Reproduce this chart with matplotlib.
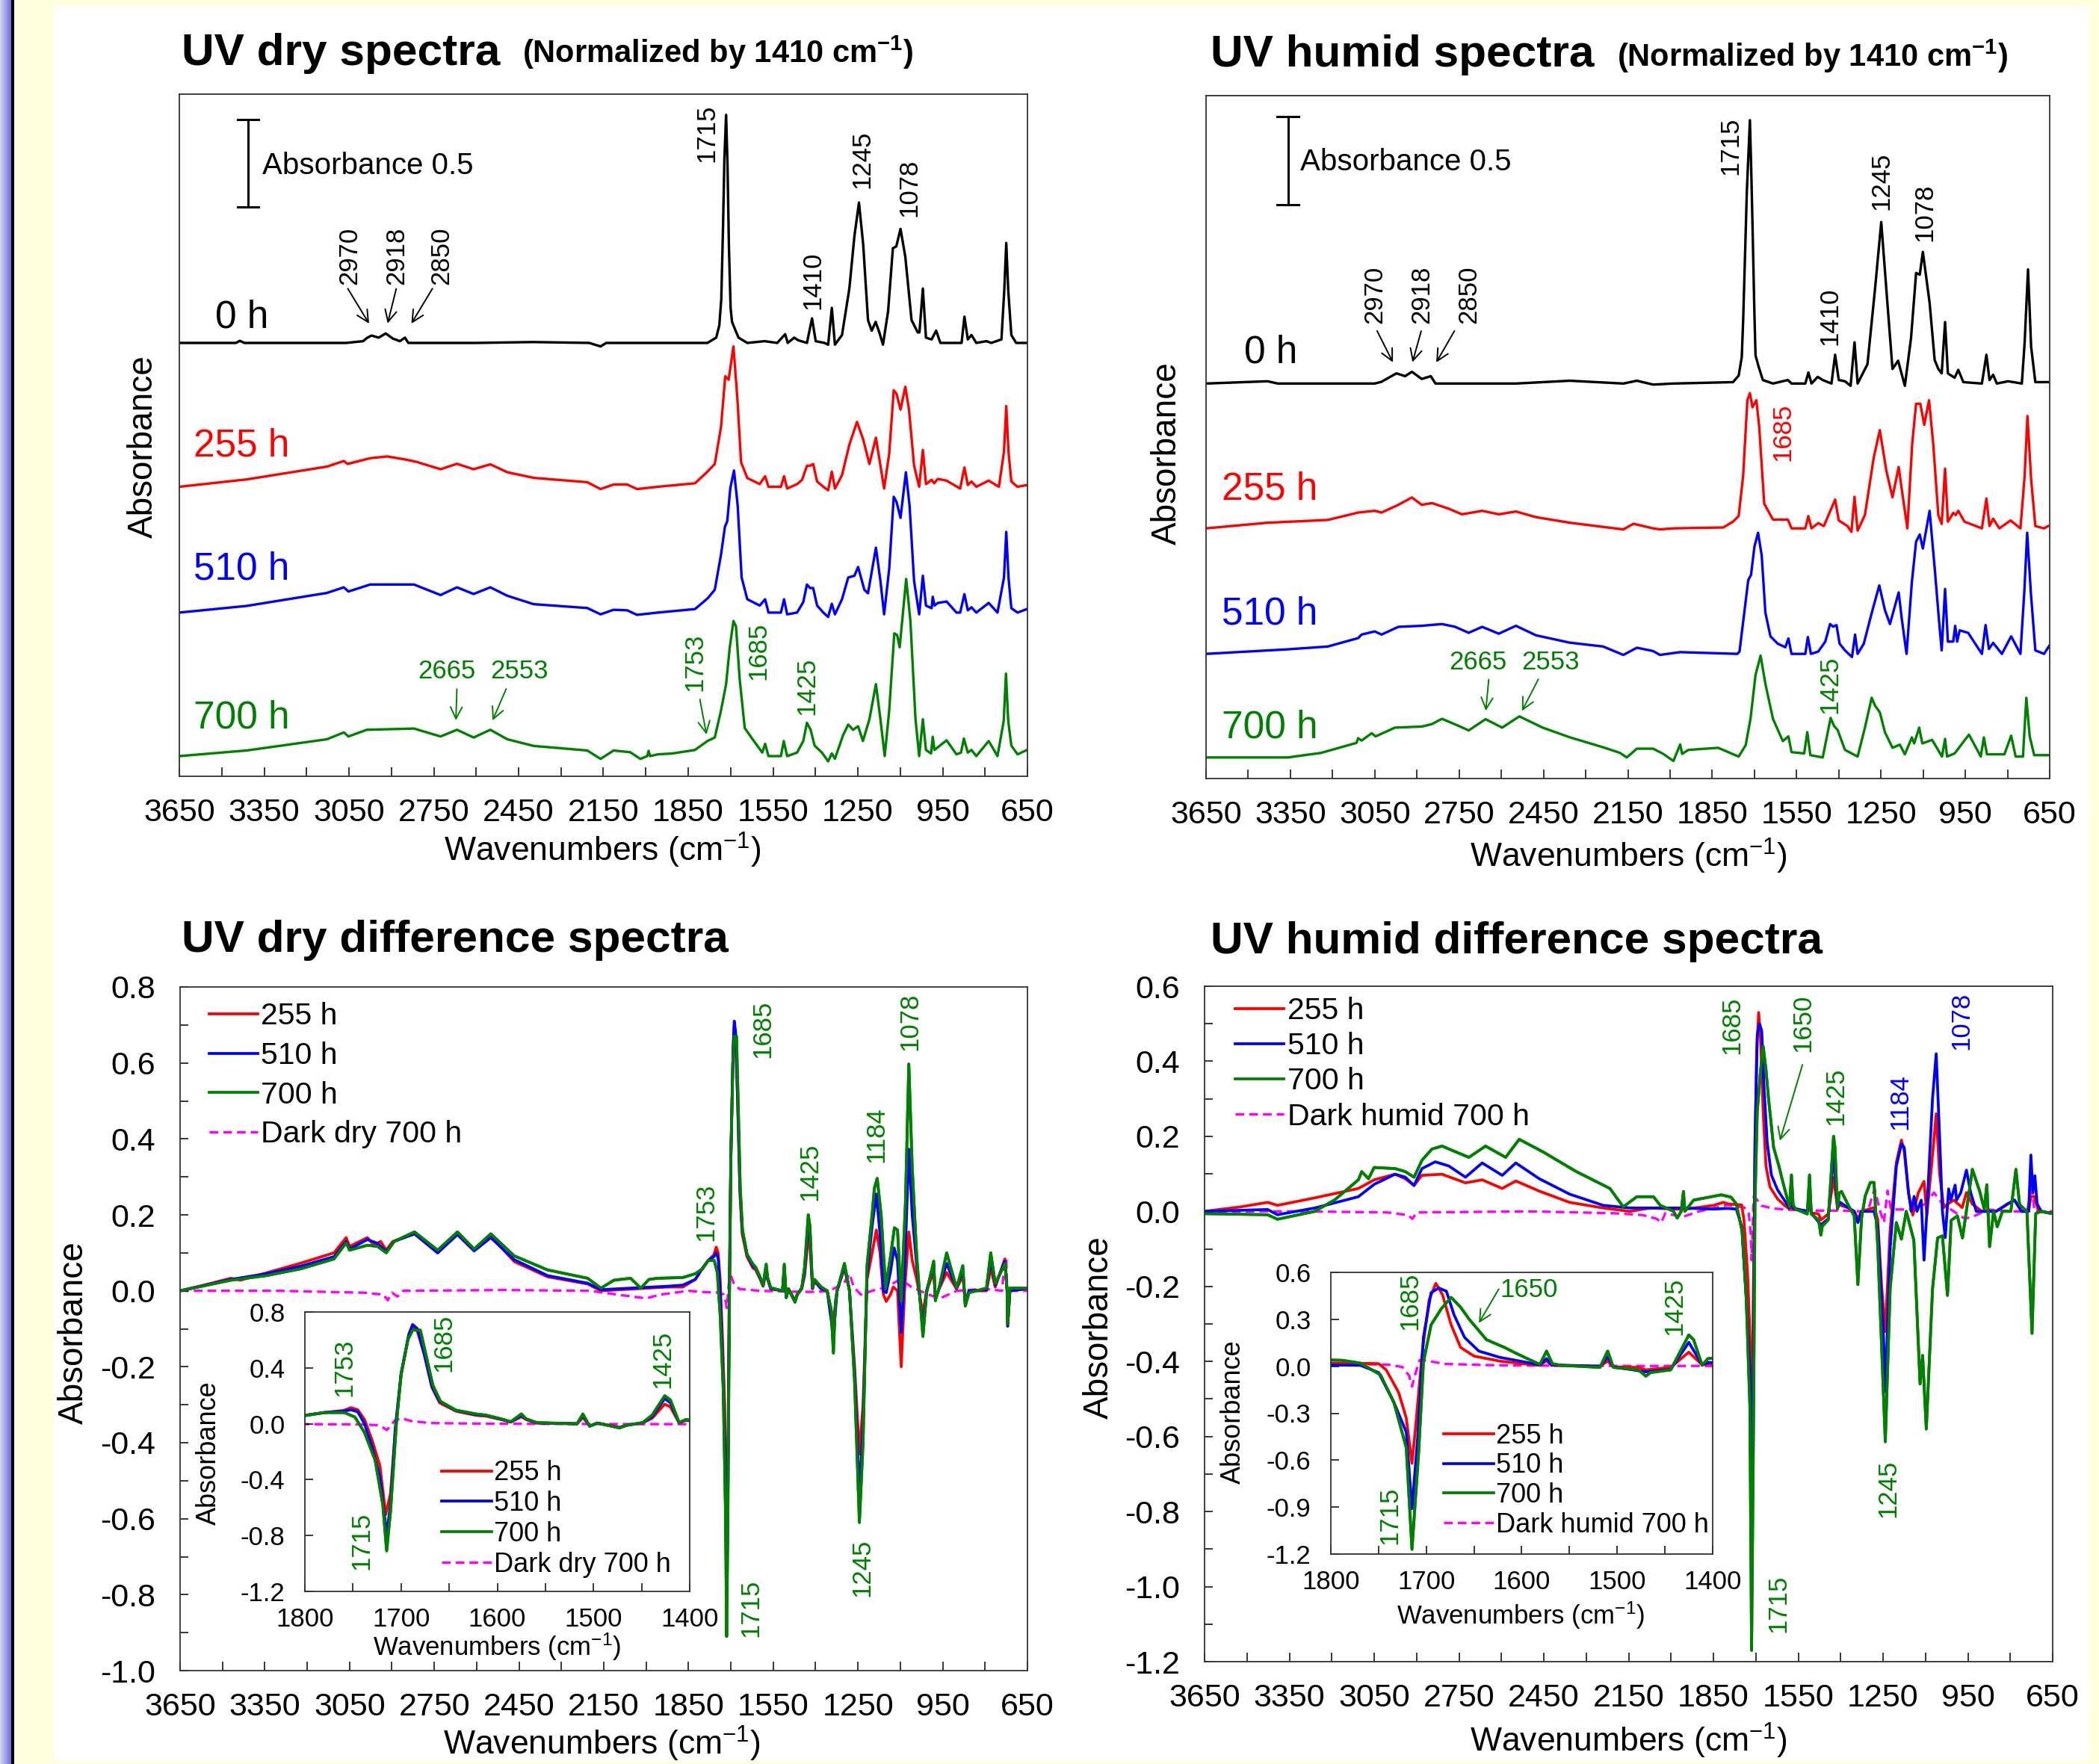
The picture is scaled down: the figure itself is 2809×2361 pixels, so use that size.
import numpy as np
import matplotlib
matplotlib.use("Agg")
import matplotlib.pyplot as plt
from matplotlib.patches import Rectangle
from matplotlib.colors import LinearSegmentedColormap
from matplotlib.ticker import FixedLocator, NullFormatter

plt.rcParams['font.family'] = ['Liberation Sans', 'DejaVu Sans']
plt.rcParams['mathtext.fontset'] = 'custom'
plt.rcParams['mathtext.rm'] = 'Liberation Sans'
plt.rcParams['mathtext.bf'] = 'Liberation Sans:bold'
plt.rcParams['mathtext.default'] = 'regular'
plt.rcParams['axes.unicode_minus'] = False

W, H = 2809, 2361

# ---------------- data: stacked spectra (wavenumber, absorbance above own baseline) ----------------
dry_0h = [(3650,0),(3450,0),(3436,0.012),(3420,0),(3060,0),(3000,0.01),(2985,0.03),(2970,0.042),(2945,0.03),
          (2920,0.054),(2895,0.025),(2870,0.01),(2852,0.03),(2840,0),(2600,0),(2400,0.005),(2200,0),(2160,-0.02),
          (2140,0),(1958,0),(1782,0),(1751,0.03),(1740,0.1),(1733,0.25),(1727,0.65),(1722,1.05),(1716,1.30),
          (1711,1.02),(1706,0.55),(1700,0.2),(1695,0.12),(1685,0.08),(1672,0.03),(1641,0),(1580,0.01),(1535,0),
          (1507,0.05),(1498,0),(1475,0.03),(1461,0.015),(1430,0),(1412,0.14),(1399,0.01),(1368,0),(1355,-0.01),
          (1342,0.2),(1331,-0.01),(1306,0.045),(1280,0.31),(1262,0.61),(1246,0.80),(1231,0.56),(1214,0.13),
          (1201,0.07),(1187,0.12),(1174,0.06),(1161,-0.01),(1143,0.18),(1126,0.54),(1114,0.55),(1099,0.65),
          (1082,0.49),(1060,0.13),(1038,0.06),(1032,0.06),(1020,0.31),(1009,0.03),(989,0.02),(973,0.07),(958,0),
          (883,0),(873,0.15),(861,0.02),(848,0.045),(831,0),(795,0.01),(778,0),(742,0.02),(732,0.3),(725,0.57),
          (718,0.3),(707,0.045),(690,0),(650,0)]
dry_255h = [(3650,0),(3412,0.042),(3128,0.115),(3068,0.147),(3055,0.13),(2975,0.163),(2915,0.173),(2845,0.154),
            (2809,0.141),(2726,0.10),(2668,0.131),(2609,0.10),(2550,0.128),(2490,0.083),(2397,0.051),(2207,0.026),
            (2160,-0.013),(2114,0.013),(2066,0.013),(2031,-0.013),(1958,0),(1826,0.02),(1782,0.086),(1756,0.13),
            (1734,0.34),(1719,0.63),(1707,0.61),(1690,0.80),(1676,0.50),(1663,0.14),(1641,0.05),(1597,0.015),
            (1578,0.06),(1566,0),(1522,0),(1511,0.06),(1500,-0.01),(1465,0.015),(1447,0.04),(1430,0.12),(1419,0.12),
            (1408,0.13),(1394,0.03),(1372,0),(1355,-0.02),(1342,0.086),(1331,-0.01),(1306,0.066),(1280,0.24),
            (1253,0.37),(1231,0.27),(1209,0.13),(1186,0.28),(1170,0.12),(1157,-0.01),(1139,0.19),(1123,0.55),
            (1113,0.53),(1099,0.44),(1082,0.57),(1069,0.44),(1051,0.12),(1033,0),(1020,0.21),(1009,0.015),(989,0.04),
            (980,0.02),(967,0.045),(936,0.035),(888,-0.01),(873,0.11),(861,0.01),(848,0.03),(831,0),(787,0.035),
            (751,0),(733,0.2),(725,0.46),(717,0.2),(707,0.03),(685,0),(652,0.01)]
dry_510h = [(3650,0),(3412,0.038),(3128,0.112),(3068,0.144),(3052,0.12),(2975,0.16),(2903,0.16),(2820,0.16),
            (2726,0.10),(2668,0.144),(2609,0.106),(2550,0.144),(2490,0.096),(2397,0.048),(2207,0.026),(2160,-0.01),
            (2114,0.016),(2066,0.013),(2031,-0.013),(1958,0),(1826,0.02),(1782,0.08),(1756,0.13),(1734,0.33),
            (1720,0.49),(1712,0.52),(1701,0.71),(1688,0.81),(1675,0.61),(1661,0.2),(1641,0.076),(1597,0.04),
            (1578,0.076),(1566,0),(1522,0),(1511,0.076),(1500,-0.01),(1465,0),(1443,0.06),(1430,0.16),(1419,0.14),
            (1408,0.14),(1394,0.04),(1372,0),(1355,-0.025),(1342,0.05),(1331,-0.01),(1306,0.076),(1284,0.2),
            (1262,0.21),(1249,0.26),(1227,0.13),(1214,0.11),(1186,0.37),(1170,0.18),(1157,-0.01),(1139,0.25),
            (1123,0.66),(1113,0.63),(1099,0.54),(1080,0.80),(1067,0.61),(1051,0.18),(1033,-0.01),(1020,0.21),
            (1009,0.04),(989,0.025),(985,0.09),(979,0.04),(967,0.055),(936,0.063),(901,0),(888,0),(873,0.105),
            (861,0.013),(848,0.03),(831,0),(787,0.055),(756,0),(733,0.2),(725,0.46),(717,0.2),(707,0.025),(685,0),
            (652,0.02)]
dry_700h = [(3650,0),(3412,0.032),(3128,0.096),(3068,0.135),(3052,0.112),(2987,0.15),(2820,0.157),(2726,0.112),
            (2668,0.15),(2609,0.106),(2550,0.15),(2490,0.096),(2397,0.058),(2207,0.032),(2160,-0.016),(2114,0.032),
            (2055,0.022),(2019,-0.016),(1995,0.0),(1990,0.03),(1985,0.0),(1958,0.01),(1906,0.015),(1826,0.035),
            (1782,0.086),(1756,0.106),(1734,0.26),(1716,0.41),(1703,0.62),(1690,0.77),(1681,0.74),(1668,0.44),
            (1650,0.16),(1624,0.1),(1588,0.02),(1578,0.07),(1566,0),(1522,0),(1512,0.086),(1500,0),(1465,0.02),
            (1443,0.086),(1430,0.19),(1417,0.15),(1403,0.06),(1377,0.02),(1355,-0.03),(1342,0.015),(1331,-0.015),
            (1302,0.12),(1284,0.18),(1267,0.15),(1249,0.17),(1232,0.086),(1209,0.21),(1186,0.41),(1170,0.21),
            (1155,0),(1139,0.26),(1121,0.70),(1111,0.69),(1102,0.62),(1079,1.01),(1064,0.77),(1046,0.21),(1033,0),
            (1020,0.21),(1009,0.035),(991,0.015),(985,0.11),(979,0.035),(936,0.09),(901,0.01),(885,0.02),(875,0.1),
            (861,0.02),(848,0.035),(831,0),(787,0.086),(756,0),(734,0.2),(726,0.47),(718,0.2),(707,0.06),(685,0.01),
            (652,0.035)]
dry_offsets = [2.47, 1.65, 0.933, 0.115]

hum_0h = [(3650,0),(3431,0.013),(3395,0),(3050,0),(3026,0.01),(2973,0.058),(2942,0.042),(2918,0.067),(2883,0.026),
          (2851,0.042),(2834,0),(2548,0),(2357,0.016),(2166,0),(2118,0.016),(2060,-0.006),(1988,0),(1776,0.008),
          (1756,0.045),(1745,0.15),(1740,0.36),(1733,0.75),(1727,1.09),(1716,1.50),(1711,1.2),(1707,0.92),
          (1700,0.4),(1696,0.16),(1685,0.096),(1670,0.02),(1634,0),(1581,0.02),(1568,0),(1519,0),(1508,0.063),
          (1497,0),(1475,0.038),(1457,0.02),(1426,0),(1413,0.164),(1400,0.02),(1378,0.013),(1358,-0.013),
          (1344,0.235),(1333,0),(1298,0.11),(1271,0.54),(1249,0.92),(1231,0.54),(1209,0.083),(1189,0.13),
          (1165,-0.013),(1143,0.26),(1125,0.63),(1112,0.62),(1101,0.75),(1077,0.46),(1059,0.134),(1046,0.083),
          (1034,0.058),(1022,0.35),(1012,0.058),(988,0.033),(975,0.078),(957,0.008),(891,0),(875,0.164),
          (864,0.02),(851,0.05),(838,0),(798,0.013),(749,0),(739,0.235),(727,0.65),(716,0.21),(701,0.008),
          (656,0.008)]
hum_255h = [(3650,0),(3431,0.032),(3217,0.048),(3109,0.09),(3050,0.10),(3026,0.09),(2966,0.134),(2918,0.176),
            (2883,0.134),(2847,0.144),(2787,0.112),(2740,0.08),(2668,0.10),(2609,0.08),(2548,0.096),(2477,0.064),
            (2357,0.032),(2166,-0.006),(2130,0.026),(2060,0),(2036,-0.006),(1988,0),(1811,0.005),(1776,0.038),
            (1756,0.07),(1740,0.30),(1725,0.73),(1716,0.77),(1707,0.69),(1693,0.73),(1683,0.58),(1665,0.14),
            (1634,0.05),(1581,0.05),(1568,0),(1519,0),(1508,0.07),(1497,0),(1473,0.03),(1453,0.013),(1431,0.096),
            (1413,0.164),(1400,0.045),(1369,0.013),(1355,-0.02),(1344,0.18),(1333,-0.013),(1307,0.076),(1276,0.40),
            (1254,0.56),(1231,0.33),(1209,0.177),(1187,0.35),(1174,0.2),(1156,0),(1139,0.48),(1125,0.71),
            (1110,0.71),(1096,0.59),(1079,0.73),(1064,0.48),(1046,0.076),(1034,0.025),(1022,0.34),(1012,0.038),
            (993,0.088),(984,0.076),(975,0.1),(953,0.038),(891,0),(875,0.17),(864,0.013),(851,0.055),(829,0),
            (789,0.045),(754,0),(739,0.30),(729,0.64),(716,0.28),(701,0.013),(670,0),(656,0.013)]
hum_510h = [(3650,0),(3359,0.026),(3217,0.042),(3109,0.09),(3097,0.11),(3050,0.128),(3026,0.11),(2966,0.154),
            (2883,0.16),(2811,0.17),(2764,0.154),(2716,0.12),(2668,0.154),(2609,0.115),(2548,0.16),(2477,0.106),
            (2357,0.064),(2238,0.042),(2166,-0.006),(2118,0.035),(2060,0.016),(2036,-0.006),(1964,0.01),(1761,0),
            (1753,0.013),(1736,0.235),(1722,0.42),(1712,0.45),(1700,0.61),(1687,0.69),(1674,0.56),(1661,0.235),
            (1643,0.10),(1617,0.058),(1590,0.038),(1579,0.088),(1568,0),(1519,0),(1510,0.096),(1499,0),(1473,0.013),
            (1448,0.07),(1431,0.17),(1420,0.155),(1408,0.164),(1397,0.058),(1378,0.02),(1353,-0.018),(1342,0.11),
            (1333,0),(1311,0.058),(1285,0.22),(1256,0.39),(1236,0.25),(1218,0.17),(1187,0.35),(1176,0.2),(1159,0),
            (1140,0.41),(1125,0.64),(1112,0.68),(1101,0.60),(1077,0.815),(1059,0.49),(1043,0.18),(1034,0.02),
            (1022,0.37),(1012,0.07),(993,0.07),(986,0.16),(979,0.07),(970,0.134),(940,0.12),(891,0),(878,0.164),
            (866,0.028),(851,0.063),(820,0),(787,0.10),(754,0),(740,0.36),(730,0.69),(717,0.35),(701,0.02),(670,0),
            (652,0.045)]
hum_700h = [(3650,0),(3359,0),(3241,0.026),(3115,0.083),(3109,0.11),(3097,0.096),(3061,0.138),(3047,0.12),
            (2978,0.17),(2883,0.176),(2847,0.19),(2811,0.22),(2752,0.18),(2716,0.154),(2656,0.218),(2597,0.17),
            (2536,0.234),(2453,0.17),(2357,0.115),(2238,0.058),(2178,0.026),(2154,0),(2118,0.05),(2060,0.05),
            (2024,0.02),(1988,-0.02),(1964,0.074),(1957,0.02),(1935,0.043),(1829,0.055),(1756,0.005),(1731,0.07),
            (1714,0.22),(1696,0.47),(1678,0.58),(1661,0.42),(1634,0.22),(1599,0.093),(1579,0.12),(1568,0.03),
            (1523,0.023),(1512,0.144),(1501,0.013),(1457,0),(1429,0.225),(1417,0.18),(1404,0.156),(1378,0.043),
            (1333,0.005),(1307,0.17),(1283,0.34),(1271,0.295),(1254,0.257),(1236,0.144),(1209,0.055),(1183,0.073),
            (1165,0.018),(1140,0.114),(1132,0.08),(1114,0.17),(1103,0.08),(1068,0.1),(1033,0.005),(1022,0.106),
            (1015,0.005),(988,0.023),(937,0.13),(895,0.005),(884,0.114),(873,0.018),(811,0.018),(787,0.124),
            (771,0.005),(745,0.005),(733,0.34),(721,0.12),(705,0.013),(652,0.013)]
hum_offsets = [2.25, 1.425, 0.71, 0.12]

# ---------------- data: difference spectra ----------------
ddry_255 = [(3650,0),(3576,0.013),(3470,0.033),(3436,0.028),(3345,0.047),(3222,0.073),(3105,0.1),(3062,0.14),
            (3050,0.117),(2987,0.14),(2963,0.12),(2940,0.13),(2920,0.107),(2897,0.13),(2820,0.15),(2738,0.1),
            (2668,0.15),(2609,0.107),(2550,0.144),(2467,0.077),(2349,0.037),(2207,0.018),(2160,0),(1924,0.01),
            (1870,0.01),(1826,0.03),(1800,0.06),(1780,0.08),(1760,0.095),(1752,0.115),(1745,0.10),(1738,0.03),
            (1730,-0.12),(1722,-0.3),(1716,-0.65),(1711,-0.5),(1706,-0.05),(1700,0.35),(1692,0.63),(1688,0.70),
            (1683,0.66),(1676,0.5),(1668,0.26),(1660,0.15),(1643,0.09),(1622,0.06),(1612,0.055),(1596,0.03),
            (1586,0.012),(1575,0.05),(1570,0.03),(1559,0.005),(1517,0),(1511,0.045),(1504,-0.015),(1496,0.005),
            (1473,-0.025),(1465,-0.01),(1449,0.005),(1439,0.04),(1426,0.14),(1420,0.12),(1411,0.005),(1404,0.025),
            (1380,0.005),(1359,0),(1337,-0.08),(1324,0),(1298,0.06),(1280,0),(1262,-0.2),(1245,-0.43),(1232,-0.3),
            (1218,0.03),(1200,0.1),(1185,0.16),(1172,0.1),(1160,-0.01),(1150,-0.028),(1135,-0.01),(1125,0.01),
            (1110,0),(1097,-0.2),(1085,0),(1070,0.155),(1058,0.08),(1042,0.03),(1020,-0.06),(1007,0),(982,0.05),
            (976,-0.02),(963,0.005),(936,0.048),(901,0.005),(879,0.04),(870,-0.03),(857,0),(795,0),(780,0.06),
            (764,0.01),(730,0.084),(722,0),(720,-0.093),(712,0),(652,0.005)]
ddry_510 = [(3650,0),(3470,0.03),(3345,0.045),(3222,0.065),(3105,0.09),(3062,0.13),(3050,0.11),(2987,0.135),
            (2951,0.125),(2920,0.103),(2892,0.13),(2820,0.15),(2738,0.1),(2668,0.148),(2609,0.105),(2550,0.14),
            (2467,0.082),(2349,0.04),(2207,0.02),(2160,0.003),(1924,0.012),(1870,0.015),(1826,0.03),(1800,0.06),
            (1780,0.08),(1760,0.09),(1752,0.10),(1745,0.085),(1738,0),(1730,-0.17),(1722,-0.38),(1715,-0.79),
            (1711,-0.58),(1706,-0.03),(1700,0.36),(1692,0.64),(1688,0.71),(1683,0.68),(1676,0.5),(1668,0.27),
            (1660,0.16),(1643,0.095),(1622,0.065),(1612,0.06),(1596,0.033),(1586,0.013),(1575,0.06),(1570,0.033),
            (1559,0.006),(1517,0),(1511,0.06),(1504,-0.018),(1496,0.005),(1473,-0.028),(1465,-0.01),(1449,0.007),
            (1439,0.05),(1426,0.18),(1420,0.15),(1411,0.007),(1404,0.028),(1380,0.005),(1359,0),(1337,-0.12),
            (1324,0),(1298,0.065),(1280,0),(1262,-0.22),(1245,-0.535),(1232,-0.35),(1218,0.04),(1200,0.17),
            (1185,0.255),(1172,0.15),(1160,0),(1150,-0.005),(1135,0.05),(1122,0.113),(1110,0.08),(1097,-0.11),
            (1085,0.05),(1070,0.373),(1058,0.2),(1042,0.066),(1020,-0.1),(1007,0),(982,0.07),(976,-0.02),(963,0.005),
            (936,0.072),(901,0.006),(879,0.055),(870,-0.035),(857,0),(795,0.003),(780,0.085),(764,0.015),(730,0.078),
            (722,0),(720,-0.093),(712,0),(652,0.006)]
ddry_700 = [(3650,0),(3470,0.028),(3345,0.04),(3222,0.058),(3105,0.084),(3062,0.126),(3050,0.107),(2987,0.12),
            (2951,0.117),(2920,0.1),(2892,0.13),(2820,0.155),(2738,0.107),(2668,0.155),(2609,0.11),(2550,0.15),
            (2467,0.092),(2349,0.055),(2207,0.033),(2160,0.007),(2114,0.028),(2055,0.033),(2019,0.007),(1990,0.03),
            (1960,0.033),(1870,0.035),(1826,0.045),(1800,0.058),(1780,0.08),(1759,0.08),(1748,0.048),(1738,-0.063),
            (1727,-0.26),(1719,-0.58),(1715,-0.91),(1711,-0.63),(1705,-0.01),(1700,0.35),(1693,0.60),(1688,0.67),
            (1680,0.67),(1675,0.52),(1667,0.275),(1659,0.16),(1643,0.097),(1622,0.07),(1612,0.062),(1596,0.035),
            (1586,0.014),(1575,0.07),(1570,0.035),(1559,0.008),(1517,0),(1511,0.07),(1504,-0.018),(1496,0.005),
            (1473,-0.03),(1465,-0.01),(1449,0.008),(1439,0.062),(1426,0.2),(1420,0.17),(1411,0.008),(1404,0.03),
            (1380,0.01),(1359,0),(1345,-0.05),(1337,-0.164),(1330,-0.03),(1324,0),(1298,0.072),(1280,0),
            (1262,-0.24),(1245,-0.61),(1232,-0.4),(1218,0.066),(1200,0.2),(1192,0.27),(1182,0.296),(1168,0.2),
            (1152,0.007),(1135,0.09),(1121,0.166),(1110,0.16),(1097,-0.028),(1082,0.23),(1070,0.597),(1058,0.325),
            (1042,0.09),(1020,-0.12),(1007,-0.005),(982,0.078),(976,-0.026),(963,0.007),(936,0.10),(901,0.007),
            (879,0.066),(870,-0.04),(857,-0.005),(795,0.007),(780,0.10),(764,0.019),(729,0.072),(722,0),
            (720,-0.087),(712,0.007),(652,0.007)]
ddry_dark = [(3650,0),(3300,0),(3000,-0.005),(2930,-0.01),(2915,-0.025),(2900,-0.005),(2880,-0.015),(2860,0),
             (2500,0.002),(2200,0),(2100,-0.01),(2000,-0.02),(1950,-0.01),(1850,0),(1800,-0.003),(1740,-0.005),
             (1725,-0.01),(1718,-0.03),(1715,-0.045),(1712,-0.025),(1707,0.02),(1700,0.04),(1690,0.02),(1670,0.005),
             (1600,0),(1500,-0.002),(1400,-0.003),(1350,0),(1300,0.02),(1280,0.045),(1265,0.01),(1240,-0.01),
             (1200,0),(1150,0.01),(1100,0.03),(1060,0.01),(1000,-0.01),(960,-0.02),(900,0),(800,0.005),(740,0),
             (730,0.08),(725,0.085),(720,-0.05),(710,0),(650,0)]

dhum_255 = [(3650,0),(3522,0.012),(3427,0.024),(3392,0.016),(3260,0.036),(3106,0.061),(3050,0.084),(2976,0.099),
            (2940,0.087),(2909,0.069),(2881,0.096),(2810,0.099),(2727,0.076),(2668,0.084),(2597,0.061),(2549,0.081),
            (2466,0.054),(2359,0.024),(2240,0.009),(2145,0),(2074,0.009),(1955,0.005),(1849,0.016),(1815,0.024),
            (1800,0.02),(1750,0.017),(1742,-0.023),(1729,-0.167),(1721,-0.33),(1715,-0.62),(1711,-0.375),
            (1704,0.105),(1697,0.425),(1690,0.53),(1683,0.457),(1674,0.265),(1664,0.12),(1650,0.065),(1623,0.033),
            (1600,0.017),(1581,0.006),(1574,0.036),(1569,0.006),(1518,0),(1510,0.033),(1504,-0.004),(1478,-0.007),
            (1470,-0.023),(1444,-0.007),(1425,0.09),(1411,0.009),(1404,0.017),(1374,0.01),(1352,0),(1339,-0.02),
            (1326,0),(1282,0.01),(1269,-0.02),(1255,-0.2),(1242,-0.32),(1225,-0.05),(1203,0.13),(1185,0.19),
            (1175,0.16),(1160,0.05),(1145,-0.01),(1125,0.05),(1105,0.08),(1095,-0.01),(1075,0.15),(1062,0.26),
            (1050,0.1),(1035,0.01),(1020,0.02),(1000,0.03),(970,0.01),(955,0.05),(935,0.02),(900,0),(850,0),
            (785,0.03),(760,0),(735,0),(727,0.04),(715,0.04),(700,0),(652,-0.005)]
dhum_510 = [(3650,0),(3427,0.005),(3392,-0.009),(3260,0.009),(3106,0.039),(3050,0.072),(2976,0.099),(2940,0.091),
            (2909,0.069),(2881,0.114),(2834,0.132),(2786,0.121),(2727,0.091),(2668,0.129),(2597,0.096),(2549,0.129),
            (2466,0.087),(2359,0.046),(2240,0.016),(2145,0.009),(2074,0.009),(1955,0.009),(1849,0.006),(1800,0.008),
            (1769,0.006),(1750,-0.04),(1734,-0.23),(1721,-0.42),(1715,-0.91),(1709,-0.455),(1703,0.185),(1695,0.47),
            (1687,0.50),(1679,0.48),(1671,0.33),(1660,0.185),(1645,0.097),(1623,0.057),(1602,0.033),(1581,0.009),
            (1574,0.049),(1569,0.009),(1518,0),(1510,0.06),(1504,-0.004),(1470,-0.036),(1444,-0.02),(1425,0.153),
            (1411,0.009),(1404,0.025),(1374,0.01),(1352,0),(1339,-0.03),(1326,0),(1282,0),(1269,-0.04),(1250,-0.3),
            (1242,-0.48),(1225,-0.1),(1203,0.12),(1185,0.18),(1175,0.17),(1160,0.05),(1150,0),(1140,0.04),(1130,0),
            (1115,0.03),(1105,-0.13),(1095,0),(1075,0.3),(1062,0.42),(1050,0.2),(1040,0),(1030,-0.07),(1018,0.06),
            (1010,0.03),(995,0.07),(990,0.03),(975,0.05),(955,0.11),(940,0.05),(920,0),(850,0),(810,0.02),(785,0.03),
            (760,0),(735,0),(727,0.15),(720,0.05),(713,0.095),(705,0.02),(690,0),(652,-0.005)]
dhum_700 = [(3650,-0.006),(3427,-0.009),(3392,-0.021),(3260,0),(3189,0.031),(3106,0.084),(3094,0.106),(3070,0.087),
            (3050,0.117),(2976,0.114),(2940,0.106),(2909,0.091),(2881,0.136),(2846,0.166),(2810,0.174),(2763,0.159),
            (2715,0.144),(2656,0.174),(2585,0.144),(2537,0.192),(2454,0.159),(2335,0.106),(2216,0.061),(2169,0.012),
            (2121,0.039),(2062,0.039),(2038,0.016),(1991,0),(1978,-0.018),(1964,0),(1956,0.053),(1951,0),(1920,0.03),
            (1823,0.044),(1788,0.038),(1769,0.02),(1748,-0.055),(1734,-0.23),(1721,-0.52),(1715,-1.17),(1708,-0.55),
            (1703,0.025),(1695,0.265),(1684,0.37),(1674,0.44),(1664,0.377),(1655,0.3),(1637,0.17),(1618,0.12),
            (1608,0.089),(1597,0.057),(1581,0.012),(1574,0.097),(1568,0.017),(1559,0.006),(1518,-0.007),(1510,0.097),
            (1504,-0.007),(1478,-0.023),(1470,-0.063),(1465,-0.04),(1444,-0.023),(1425,0.2),(1420,0.17),(1411,0.006),
            (1405,0.049),(1397,0.053),(1374,0.018),(1352,-0.012),(1339,-0.195),(1326,-0.018),(1313,0.041),
            (1295,0.077),(1282,0.077),(1269,-0.089),(1242,-0.614),(1225,-0.207),(1203,-0.03),(1185,-0.074),(1168,0),
            (1141,-0.077),(1119,-0.46),(1110,-0.384),(1097,-0.58),(1075,-0.207),(1057,-0.071),(1040,-0.065),
            (1022,-0.224),(1009,-0.024),(987,-0.012),(969,-0.071),(934,0.112),(908,0.053),(892,0.006),(883,0.071),
            (873,-0.094),(859,0),(846,-0.041),(828,0),(798,0),(780,0.112),(767,0.018),(741,0),(723,-0.325),
            (710,-0.006),(692,0),(652,-0.006)]
dhum_dark = [(3650,0),(3300,0),(3000,-0.003),(2930,-0.01),(2915,-0.02),(2900,-0.003),(2500,0),(2200,-0.005),
             (2100,-0.01),(2050,-0.02),(2035,-0.03),(2020,-0.005),(1960,-0.015),(1900,0),(1800,0.017),(1740,0.01),
             (1725,-0.005),(1718,-0.06),(1715,-0.13),(1712,-0.06),(1707,0.04),(1700,0.035),(1680,0.015),
             (1640,0.008),(1600,0.005),(1500,0.002),(1400,0.002),(1330,0),(1300,0.01),(1280,0.06),(1260,0),
             (1247,-0.03),(1234,0.055),(1222,0.005),(1150,0.005),(1100,0.02),(1070,0.05),(1040,0.02),(1000,0),
             (960,-0.02),(920,-0.01),(880,0.005),(800,0),(740,0),(728,0.05),(722,0.07),(715,0),(650,0)]

times = ['0 h', '255 h', '510 h', '700 h']
diff_labels = ['255 h', '510 h', '700 h']
colors = ['black', '#FF0000', '#0000FF', '#008000']
magenta = '#FF00FF'
green = '#008000'


def arr(pts):
    a = np.array(pts, dtype=float)
    a = a[np.argsort(-a[:, 0])]
    return a[:, 0], a[:, 1]


def box(l, r, t, b):
    return [l / W, 1 - b / H, (r - l) / W, (b - t) / H]


def wn_ticks(ax, size=31):
    ax.set_xlim(3650, 650)
    ax.xaxis.set_major_locator(FixedLocator(np.arange(3650, 649, -300)))
    ax.xaxis.set_minor_locator(FixedLocator(np.arange(3500, 649, -300)))
    ax.xaxis.set_minor_formatter(NullFormatter())
    ax.tick_params(axis='x', which='both', direction='in', length=9, width=1.1, labelsize=size, pad=21)
    for s in ax.spines.values():
        s.set_linewidth(1.3)
        s.set_color('#333333')


fig = plt.figure(figsize=(W / 100, H / 100), dpi=100, facecolor='#FFFFE0')
fig.patches.append(Rectangle((72 / W, 1 - 2356 / H), (2796 - 72) / W, (2356 - 9) / H,
                             transform=fig.transFigure, facecolor='white', edgecolor='none', zorder=-5))
fig.patches.append(Rectangle((15 / W, 0), 4 / W, 1, transform=fig.transFigure,
                             facecolor='black', edgecolor='none', zorder=-4))
ax_strip = fig.add_axes([0, 0, 15 / W, 1])
ax_strip.imshow(np.linspace(0, 1, 30).reshape(1, -1), aspect='auto',
                cmap=LinearSegmentedColormap.from_list('s', ['#D4D4F4', '#7070DC']))
ax_strip.axis('off')


def stacked(ax, spectra, offsets, ylim):
    for pts, off, c in zip(spectra, offsets, colors):
        x, y = arr(pts)
        ax.plot(x, y + off, color=c, lw=2.4)
    wn_ticks(ax)
    ax.set_ylim(*ylim)
    ax.set_yticks([])
    ax.set_xlabel('Wavenumbers (cm$^{-1}$)', fontsize=32)
    ax.set_ylabel('Absorbance', fontsize=33)


PK = 25  # peak label size

# ---------------- top left ----------------
ax1 = fig.add_axes(box(240, 1375, 126, 1039))
stacked(ax1, [dry_0h, dry_255h, dry_510h, dry_700h], dry_offsets, (0, 3.888))
ax1.xaxis.set_label_coords(0.499, -0.08)
ax1.yaxis.set_label_coords(-0.023, 0.483)
ax1.plot([3407, 3407], [3.245, 3.745], color='black', lw=2.2)
ax1.plot([3445, 3369], [3.745, 3.745], color='black', lw=2.2)
ax1.plot([3445, 3369], [3.245, 3.245], color='black', lw=2.2)
ax1.text(3357, 3.48, 'Absorbance 0.5', fontsize=29, va='center')
for lab, x, y, c in [('0 h', 3523, 2.556, 'black'), ('255 h', 3600, 1.823, colors[1]),
                     ('510 h', 3600, 1.124, colors[2]), ('700 h', 3600, 0.276, colors[3])]:
    ax1.text(x, y, lab, fontsize=37, color=c, va='baseline')
for lab, x, y in [('1715', 1784, 3.50), ('1245', 1235, 3.35), ('1078', 1068, 3.19), ('1410', 1410, 2.66),
                  ('2970', 3047, 2.80), ('2918', 2881, 2.80), ('2850', 2722, 2.80)]:
    ax1.text(x, y, lab, fontsize=PK, rotation=90, ha='center', va='bottom')
for xs, xe in [(3058, 2975), (2881, 2915), (2751, 2833)]:
    ax1.annotate('', xy=(xe, 2.57), xytext=(xs, 2.79),
                 arrowprops=dict(arrowstyle='->', color='black', lw=1.4, mutation_scale=28))
for lab, x, y in [('1753', 1826, 0.485), ('1685', 1601, 0.55), ('1425', 1430, 0.35)]:
    ax1.text(x, y, lab, fontsize=PK, rotation=90, ha='center', va='bottom', color=green)
ax1.text(2704, 0.53, '2665', fontsize=PK, ha='center', va='bottom', color=green)
ax1.text(2447, 0.53, '2553', fontsize=PK, ha='center', va='bottom', color=green)
for (xs, ys), (xe, ye) in [((2668, 0.509), (2672, 0.307)), ((2491, 0.509), (2545, 0.307)),
                           ((1810, 0.45), (1784, 0.226))]:
    ax1.annotate('', xy=(xe, ye), xytext=(xs, ys),
                 arrowprops=dict(arrowstyle='->', color=green, lw=1.4, mutation_scale=28))

# ---------------- top right ----------------
ax2 = fig.add_axes(box(1614, 2743, 128, 1042))
stacked(ax2, [hum_0h, hum_255h, hum_510h, hum_700h], hum_offsets, (0, 3.89))
ax2.xaxis.set_label_coords(0.501, -0.085)
ax2.yaxis.set_label_coords(-0.027, 0.476)
ax2.plot([3359, 3359], [3.27, 3.77], color='black', lw=2.2)
ax2.plot([3397, 3321], [3.77, 3.77], color='black', lw=2.2)
ax2.plot([3397, 3321], [3.27, 3.27], color='black', lw=2.2)
ax2.text(3316, 3.51, 'Absorbance 0.5', fontsize=29, va='center')
for lab, x, y, c in [('0 h', 3515, 2.37, 'black'), ('255 h', 3593, 1.59, colors[1]),
                     ('510 h', 3593, 0.88, colors[2]), ('700 h', 3593, 0.234, colors[3])]:
    ax2.text(x, y, lab, fontsize=37, color=c, va='baseline')
for lab, x, y in [('1715', 1785, 3.44), ('1245', 1248, 3.24), ('1078', 1093, 3.06), ('1410', 1432, 2.47),
                  ('2970', 3050, 2.59), ('2918', 2883, 2.59), ('2850', 2716, 2.59)]:
    ax2.text(x, y, lab, fontsize=PK, rotation=90, ha='center', va='bottom')
for xs, xe in [(3045, 2982), (2883, 2918), (2763, 2835)]:
    ax2.annotate('', xy=(xe, 2.36), xytext=(xs, 2.56),
                 arrowprops=dict(arrowstyle='->', color='black', lw=1.4, mutation_scale=28))
ax2.text(1599, 1.81, '1685', fontsize=PK, rotation=90, ha='center', va='bottom', color=colors[1])
ax2.text(1432, 0.37, '1425', fontsize=PK, rotation=90, ha='center', va='bottom', color=green)
ax2.text(2684, 0.59, '2665', fontsize=PK, ha='center', va='bottom', color=green)
ax2.text(2424, 0.59, '2553', fontsize=PK, ha='center', va='bottom', color=green)
for (xs, ys), (xe, ye) in [((2644, 0.576), (2656, 0.374)), ((2465, 0.576), (2530, 0.374))]:
    ax2.annotate('', xy=(xe, ye), xytext=(xs, ys),
                 arrowprops=dict(arrowstyle='->', color=green, lw=1.4, mutation_scale=28))


def diff_panel(ax, series, dark, dark_label):
    handles = []
    for pts, c, lab in zip(series, colors[1:], diff_labels):
        x, y = arr(pts)
        h, = ax.plot(x, y, color=c, lw=2.7, label=lab)
        handles.append(h)
    x, y = arr(dark)
    h, = ax.plot(x, y, color=magenta, lw=2.4, ls=(0, (3.5, 2)), label=dark_label, zorder=1.4)
    handles.append(h)
    # green drawn again on top of the dashed line
    x, y = arr(series[2])
    ax.plot(x, y, color=colors[3], lw=2.7, zorder=1.5)
    return handles


def ytick_setup(ax, lo, hi, step, size, pad, minor=None):
    vals = np.round(np.arange(lo, hi + step / 2, step), 2)
    ax.set_yticks(vals)
    ax.set_yticklabels(['%.1f' % v if abs(v) > 1e-9 else '0.0' for v in vals])
    if minor:
        ax.yaxis.set_minor_locator(FixedLocator(np.round(np.arange(lo, hi + minor / 2, minor), 2)))
    ax.tick_params(axis='y', which='both', direction='in', length=8, width=1.1, labelsize=size, pad=pad)


# ---------------- bottom left ----------------
ax3 = fig.add_axes(box(241, 1375, 1321, 2236))
hd = diff_panel(ax3, [ddry_255, ddry_510, ddry_700], ddry_dark, 'Dark dry 700 h')
wn_ticks(ax3)
ax3.set_ylim(-1.0, 0.8)
ytick_setup(ax3, -1.0, 0.8, 0.2, 31, 24, 0.1)
ax3.set_xlabel('Wavenumbers (cm$^{-1}$)', fontsize=32)
ax3.set_ylabel('Absorbance', fontsize=33)
ax3.xaxis.set_label_coords(0.498, -0.079)
ax3.yaxis.set_label_coords(-0.106, 0.494)
ax3.legend(handles=hd, loc='upper left', bbox_to_anchor=(0.034, 0.978), frameon=False, fontsize=29.5,
           handlelength=1.6, handletextpad=0.1, labelspacing=0.36, borderpad=0, borderaxespad=0)
for lab, x, y in [('1685', 1588, 0.614), ('1753', 1787, 0.131), ('1425', 1421, 0.237), ('1184', 1185, 0.337),
                  ('1078', 1066, 0.632)]:
    ax3.text(x, y, lab, fontsize=PK, rotation=90, ha='center', va='bottom', color=green)
for lab, x, y in [('1245', 1236, -0.653), ('1715', 1628, -0.76)]:
    ax3.text(x, y, lab, fontsize=PK, rotation=90, ha='center', va='top', color=green)

# ---------------- bottom right ----------------
ax4 = fig.add_axes(box(1612, 2747, 1320, 2224))
hh = diff_panel(ax4, [dhum_255, dhum_510, dhum_700], dhum_dark, 'Dark humid 700 h')
wn_ticks(ax4)
ax4.set_ylim(-1.2, 0.6)
ytick_setup(ax4, -1.2, 0.6, 0.2, 31, 24, 0.1)
ax4.set_xlabel('Wavenumbers (cm$^{-1}$)', fontsize=32)
ax4.set_ylabel('Absorbance', fontsize=33)
ax4.xaxis.set_label_coords(0.5, -0.088)
ax4.yaxis.set_label_coords(-0.105, 0.495)
ax4.legend(handles=hh, loc='upper left', bbox_to_anchor=(0.036, 0.984), frameon=False, fontsize=29.5,
           handlelength=1.6, handletextpad=0.1, labelspacing=0.22, borderpad=0, borderaxespad=0)
for lab, x, y, c in [('1685', 1784, 0.419, green), ('1650', 1533, 0.425, green), ('1425', 1418, 0.23, green),
                     ('1184', 1190, 0.218, colors[2]), ('1078', 974, 0.431, colors[2])]:
    ax4.text(x, y, lab, fontsize=PK, rotation=90, ha='center', va='bottom', color=c)
for lab, x, y in [('1245', 1232, -0.661), ('1715', 1621, -0.968)]:
    ax4.text(x, y, lab, fontsize=PK, rotation=90, ha='center', va='top', color=green)
ax4.annotate('', xy=(1617, 0.183), xytext=(1533, 0.396),
             arrowprops=dict(arrowstyle='->', color=green, lw=1.4, mutation_scale=28))


def inset(rect, series, dark, dark_label, ylim, ystep, leg_anchor, spacing):
    ax = fig.add_axes(rect)
    hs = diff_panel(ax, series, dark, dark_label)
    ax.set_xlim(1800, 1400)
    ax.set_ylim(*ylim)
    ax.xaxis.set_major_locator(FixedLocator([1800, 1700, 1600, 1500, 1400]))
    ax.xaxis.set_minor_locator(FixedLocator([1750, 1650, 1550, 1450]))
    ax.tick_params(axis='x', which='both', direction='in', length=8, width=1.1, labelsize=25, pad=15)
    ytick_setup(ax, ylim[0], ylim[1], ystep, 25, 19)
    for s in ax.spines.values():
        s.set_linewidth(1.3)
        s.set_color('#333333')
    ax.set_xlabel('Wavenumbers (cm$^{-1}$)', fontsize=25)
    ax.set_ylabel('Absorbance', fontsize=26)
    ax.legend(handles=hs, loc='upper left', bbox_to_anchor=leg_anchor, frameon=False, fontsize=26,
              handlelength=1.85, handletextpad=0.1, labelspacing=spacing, borderpad=0, borderaxespad=0)
    return ax


ax5 = inset(box(408, 923, 1756, 2130), [ddry_255, ddry_510, ddry_700], ddry_dark, 'Dark dry 700 h',
            (-1.2, 0.8), 0.4, (0.355, 0.47), 0.16)
ax5.xaxis.set_label_coords(0.5, -0.142)
ax5.yaxis.set_label_coords(-0.215, 0.496)
for lab, x, y in [('1753', 1759, 0.195), ('1685', 1656, 0.373), ('1425', 1428, 0.257)]:
    ax5.text(x, y, lab, fontsize=PK, rotation=90, ha='center', va='bottom', color=green)
ax5.text(1741, -0.632, '1715', fontsize=PK, rotation=90, ha='center', va='top', color=green)

ax6 = inset(box(1781, 2292, 1703, 2080), [dhum_255, dhum_510, dhum_700], dhum_dark, 'Dark humid 700 h',
            (-1.2, 0.6), 0.3, (0.295, 0.465), 0.13)
ax6.xaxis.set_label_coords(0.497, -0.163)
ax6.yaxis.set_label_coords(-0.222, 0.505)
ax6.text(1717, 0.233, '1685', fontsize=PK, rotation=90, ha='center', va='bottom', color=green)
ax6.text(1440, 0.2, '1425', fontsize=PK, rotation=90, ha='center', va='bottom', color=green)
ax6.text(1623, 0.49, '1650', fontsize=PK, ha='left', va='center', color=green)
ax6.text(1738, -0.767, '1715', fontsize=PK, rotation=90, ha='center', va='top', color=green)
ax6.annotate('', xy=(1646, 0.265), xytext=(1623, 0.505),
             arrowprops=dict(arrowstyle='->', color=green, lw=1.4, mutation_scale=28))

# ---------------- titles ----------------
fig.text(243 / W, 1 - 87 / H, 'UV dry spectra', fontsize=43.5, fontweight='bold', va='baseline')
fig.text(699 / W, 1 - 84 / H, r'(Normalized by 1410 cm$^{\mathbf{-1}}$)', fontsize=30, fontweight='bold',
         va='baseline')
fig.text(1620 / W, 1 - 89 / H, 'UV humid spectra', fontsize=43.5, fontweight='bold', va='baseline')
fig.text(2164 / W, 1 - 89 / H, r'(Normalized by 1410 cm$^{\mathbf{-1}}$)', fontsize=30, fontweight='bold',
         va='baseline')
fig.text(243 / W, 1 - 1274 / H, 'UV dry difference spectra', fontsize=43.5, fontweight='bold', va='baseline')
fig.text(1620 / W, 1 - 1276 / H, 'UV humid difference spectra', fontsize=43.5, fontweight='bold', va='baseline')

fig.savefig('out.png', dpi=100, facecolor=fig.get_facecolor())
